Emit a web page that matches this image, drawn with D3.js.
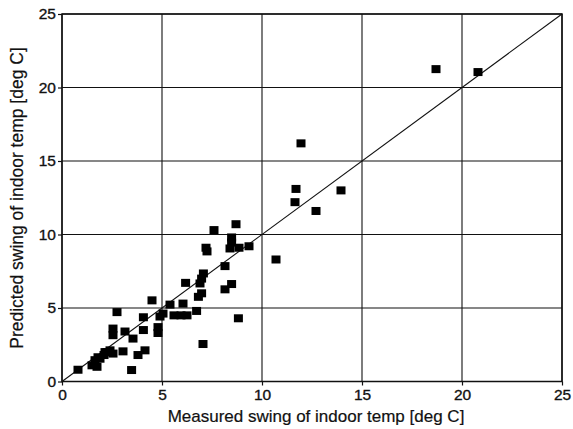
<!DOCTYPE html>
<html>
<head>
<meta charset="utf-8">
<script src="https://cdn.jsdelivr.net/npm/d3@7"></script>
<style>
  html, body { margin: 0; padding: 0; background: #fff; }
  svg { display: block; }
  text { font-family: "Liberation Sans", Arial, Helvetica, sans-serif; fill: #111; }
</style>
</head>
<body>
<svg id="chart" width="573" height="429"></svg>
<script>
// Data (measured, predicted) in deg C
const measured = [
  0.8, 1.5, 1.75, 1.65, 1.8, 1.9, 2.1, 2.15, 2.25, 2.4, 2.55, 3.05,
  2.55, 2.55, 2.75, 3.15, 3.55, 3.8, 4.15, 3.48, 4.07, 4.07, 4.8, 4.8, 4.9,
  4.5, 5.05, 5.4, 6.05, 5.6, 5.95, 6.25, 6.73, 6.82, 6.98, 6.18,
  6.9, 6.98, 7.07, 8.15, 8.48, 8.15, 7.05, 8.82,
  7.6, 8.7, 7.2, 7.25, 8.48, 8.48, 8.4, 8.85, 9.35, 10.7,
  11.65, 11.7, 11.95, 12.7, 13.95, 18.7, 20.8
];
const predicted = [
  0.8, 1.1, 1.0, 1.45, 1.65, 1.55, 1.8, 2.0, 2.0, 2.12, 1.9, 2.05,
  3.6, 3.15, 4.72, 3.4, 2.92, 1.8, 2.12, 0.78, 3.5, 4.37, 3.7, 3.3, 4.42,
  5.52, 4.62, 5.23, 5.3, 4.5, 4.5, 4.5, 4.8, 5.76, 6.0, 6.71,
  6.67, 7.0, 7.35, 7.85, 6.63, 6.27, 2.55, 4.3,
  10.3, 10.7, 9.1, 8.85, 9.8, 9.45, 9.05, 9.1, 9.2, 8.3,
  12.2, 13.1, 16.2, 11.6, 13.0, 21.25, 21.05
];
const xTicks = [0, 5, 10, 15, 20, 25];
const yTicks = [0, 5, 10, 15, 20, 25];
const xTitle = "Measured swing of indoor temp [deg C]";
const yTitle = "Predicted swing of indoor temp [deg C]";

const svg = d3.select("#chart");
const mLeft = 62, mRight = 562, mTop = 14, mBottom = 381.5;

const x = d3.scaleLinear().domain([0, 25]).range([mLeft, mRight]);
const y = d3.scaleLinear().domain([0, 25]).range([mBottom, mTop]);

// grid
const g = svg.append("g");
g.selectAll("line.vg").data(xTicks).join("line")
  .attr("x1", d => x(d)).attr("x2", d => x(d))
  .attr("y1", mTop).attr("y2", mBottom)
  .attr("stroke", "#111").attr("stroke-width", 1.1);
g.selectAll("line.hg").data(yTicks).join("line")
  .attr("y1", d => y(d)).attr("y2", d => y(d))
  .attr("x1", mLeft).attr("x2", mRight)
  .attr("stroke", "#111").attr("stroke-width", 1.1);

// frame
svg.append("rect").attr("x", mLeft).attr("y", mTop)
  .attr("width", mRight - mLeft).attr("height", mBottom - mTop)
  .attr("fill", "none").attr("stroke", "#111").attr("stroke-width", 1.5);

// axes
const xAxis = d3.axisBottom(x).tickValues(xTicks).tickSize(4).tickPadding(3);
const yAxis = d3.axisLeft(y).tickValues(yTicks).tickSize(4).tickPadding(2);
const xa = svg.append("g").attr("transform", `translate(0,${mBottom})`).call(xAxis);
const ya = svg.append("g").attr("transform", `translate(${mLeft},0)`).call(yAxis);
[xa, ya].forEach(a => {
  a.select(".domain").remove();
  a.selectAll(".tick line").attr("stroke", "#111").attr("stroke-width", 1.2);
  a.selectAll(".tick text").attr("font-size", 15.5)
    .attr("font-family", '"Liberation Sans", Arial, sans-serif')
    .attr("fill", "#111").attr("stroke", "#111").attr("stroke-width", 0.35);
});

// 1:1 line
svg.append("line")
  .attr("x1", x(0)).attr("y1", y(0)).attr("x2", x(25)).attr("y2", y(25))
  .attr("stroke", "#111").attr("stroke-width", 1.1);

// points
const pts = measured.map((m, i) => ({ m, p: predicted[i] }));
svg.append("g").selectAll("rect").data(pts).join("rect")
  .attr("x", d => x(d.m) - 4.5).attr("y", d => y(d.p) - 4)
  .attr("width", 9).attr("height", 8).attr("fill", "#000");

// titles
svg.append("text").attr("x", 316).attr("y", 422)
  .attr("text-anchor", "middle").attr("font-size", 17)
  .attr("stroke", "#111").attr("stroke-width", 0.2).text(xTitle);
svg.append("text").attr("transform", "translate(23,198) rotate(-90)")
  .attr("text-anchor", "middle").attr("font-size", 17.5)
  .attr("stroke", "#111").attr("stroke-width", 0.2).text(yTitle);
</script>
</body>
</html>
